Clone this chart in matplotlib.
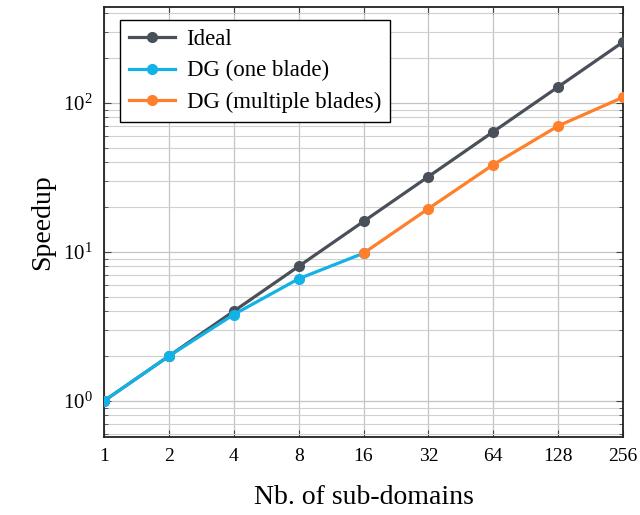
import matplotlib
matplotlib.use("Agg")
import matplotlib.pyplot as plt
from matplotlib.ticker import LogLocator, FixedLocator, FixedFormatter, NullFormatter

plt.rcParams["font.family"] = ["Liberation Serif", "DejaVu Serif"]
plt.rcParams["mathtext.fontset"] = "stix"

# données
subdomains = [1, 2, 4, 8, 16, 32, 64, 128, 256]
ideal = [1, 2, 4, 8, 16, 32, 64, 128, 256]
one_blade_x = [1, 2, 4, 8, 16]
one_blade = [1.0, 2.0, 3.8, 6.6, 9.8]
multi_x = [16, 32, 64, 128, 256]
multi = [9.8, 19.5, 38.5, 70, 109]
x_labels = ["1", "2", "4", "8", "16", "32", "64", "128", "256"]

c_ideal = "#4a5059"
c_one = "#12b2e6"
c_multi = "#ff7f2a"

fig = plt.figure(figsize=(6.4, 5.15), dpi=100)
ax = fig.add_axes([0.1625, 0.1515, 0.811, 0.835])

ax.plot(ideal, ideal, "-o", color=c_ideal, lw=2.3, ms=7, label="Ideal", zorder=3)
ax.plot(one_blade_x, one_blade, "-o", color=c_one, lw=2.3, ms=7,
        label="DG (one blade)", zorder=4)
ax.plot(multi_x, multi, "-o", color=c_multi, lw=2.3, ms=7,
        label="DG (multiple blades)", zorder=4)

ax.set_xscale("log", base=2)
ax.set_yscale("log")
ax.set_xlim(1, 256)
ax.set_ylim(0.573, 440)

ax.xaxis.set_major_locator(FixedLocator(subdomains))
ax.xaxis.set_major_formatter(FixedFormatter(x_labels))
ax.xaxis.set_minor_locator(FixedLocator([]))
ax.yaxis.set_major_locator(LogLocator(base=10))
ax.yaxis.set_minor_locator(LogLocator(base=10, subs=range(2, 10)))
ax.yaxis.set_minor_formatter(NullFormatter())

ax.grid(True, which="major", color="#c4c4c4", lw=0.9)
ax.grid(True, which="minor", axis="y", color="#d0d0d0", lw=0.8)
ax.set_axisbelow(True)

ax.tick_params(which="both", direction="in", top=True, right=True,
               color="#444444")
ax.tick_params(which="major", length=5, labelsize=14, pad=8)
ax.tick_params(axis="y", which="major", labelsize=15)
ax.tick_params(which="minor", length=3)
for s in ax.spines.values():
    s.set_linewidth(1.3)
    s.set_color("#222222")

ax.set_xlabel("Nb. of sub-domains", fontsize=20, labelpad=14)
ax.set_ylabel("Speedup", fontsize=20, labelpad=6)

leg = ax.legend(loc="upper left", fontsize=16.5, fancybox=False,
                edgecolor="black", framealpha=1, borderpad=0.4,
                labelspacing=0.45, handlelength=2.0, handletextpad=0.5,
                borderaxespad=0, bbox_to_anchor=(0.031, 0.97))
leg.get_frame().set_linewidth(1.0)

fig.savefig("out.png", dpi=100)
